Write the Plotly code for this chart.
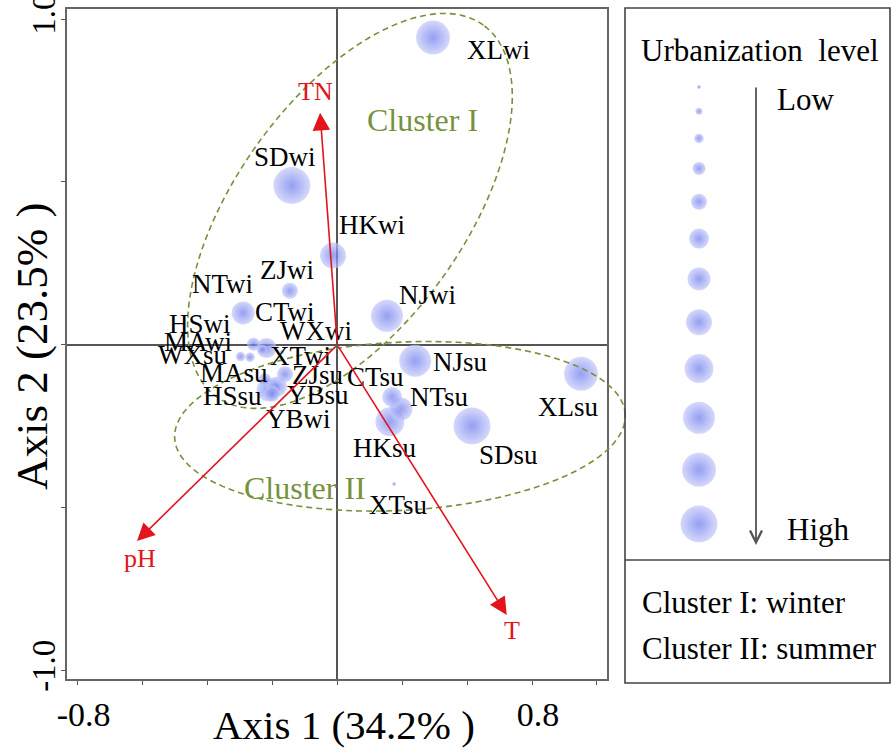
import numpy as np
import plotly.graph_objects as go

# ---------------- data ----------------
sites = ["XLwi", "SDwi", "HKwi", "ZJwi", "NTwi", "NJwi", "CTwi", "HSwi", "MAwi", "WXwi", "XTwi", "YBwi",
         "NJsu", "XLsu", "CTsu", "NTsu", "HKsu", "SDsu", "XTsu", "ZJsu", "MAsu", "HSsu", "YBsu", "WXsu"]
axis1 = [0.295, -0.140, -0.013, -0.146, -0.290, 0.153, -0.218, -0.258, -0.269, -0.231, -0.170, -0.201,
         0.240, 0.751, 0.169, 0.196, 0.162, 0.415, 0.175, -0.161, -0.223, -0.213, -0.186, -0.298]
axis2 = [0.943, 0.489, 0.274, 0.166, 0.098, 0.089, -0.010, 0.002, -0.038, -0.015, -0.022, -0.150,
         -0.049, -0.089, -0.160, -0.197, -0.236, -0.249, -0.427, -0.090, -0.107, -0.138, -0.128, -0.036]
urban_level = [11, 12, 8, 5, 7, 10, 6, 4, 3, 3, 1, 5,
               10, 11, 6, 7, 9, 12, 1, 5, 4, 7, 6, 3]

env_vars = ["TN", "pH", "T"]
env_axis1 = [-0.053, -0.617, 0.522]
env_axis2 = [0.712, -0.602, -0.829]

clusters = ["Cluster I", "Cluster II"]
cluster_cx = [0.039, 0.193]
cluster_cy = [0.411, -0.250]
cluster_a = [0.703, 0.695]
cluster_b = [0.351, 0.258]
cluster_angle = [54.2, 3.0]
cluster_label_x = [0.264, -0.100]
cluster_label_y = [0.691, -0.439]

levels = list(range(1, 13))
legend_notes = ["Cluster I: winter", "Cluster II: summer"]

x_tick_vals = [-0.8, -0.6, -0.4, -0.2, 0.0, 0.2, 0.4, 0.6, 0.8]
x_tick_text = ["-0.8", "", "", "", "", "", "", "0.8", ""]
y_tick_vals = [-1.0, -0.5, 0.0, 0.5, 1.0]
y_tick_text = ["-1.0", "", "", "", "1.0"]

# ---------------- layout constants ----------------
W, H = 892, 753
PL, PR, PT, PB = 67, 607, 9, 679
XR = [-0.8327, 0.8309]
YR = [-1.0255, 1.0307]
LEVEL_SIZE = [4, 7, 9.5, 13, 16, 20, 23, 26, 29, 32, 34, 37]
FONT = "Liberation Serif, Times New Roman, serif"
BUB_EDGE = "rgb(196,201,249)"
BUB_CENTER = "rgb(104,118,236)"
RED = "#E3141C"
GREEN = "#76923C"
GRAY = "#555555"

LABEL_OFFSETS = {
    "XLwi": (65, 12), "SDwi": (-7, -29), "HKwi": (39, -31), "ZJwi": (-3, -21),
    "NTwi": (-21, -29), "NJwi": (41, -21), "CTwi": (18, -36), "HSwi": (-54, -20),
    "MAwi": (-52, -15), "WXwi": (54, -19), "XTwi": (18, 4), "YBwi": (26, 25),
    "NJsu": (45, 1), "XLsu": (-13, 33), "CTsu": (-17, -20), "NTsu": (39, -12),
    "HKsu": (-5, 26), "SDsu": (36, 29), "XTsu": (4, 21), "ZJsu": (33, 1),
    "MAsu": (-31, -7), "HSsu": (-36, 6), "YBsu": (41, 8), "WXsu": (-48, -2),
}
ENV_OFFSETS = {"TN": (-5, -21), "pH": (3, 17), "T": (5, 16)}


def d2px(x, y):
    px = PL + (PR - PL) * (np.asarray(x) - XR[0]) / (XR[1] - XR[0])
    py = PB - (PB - PT) * (np.asarray(y) - YR[0]) / (YR[1] - YR[0])
    return px, py


def to_paper(px, py):
    return np.asarray(px) / W, 1 - np.asarray(py) / H


fig = go.Figure()

# main bubbles (bigger first so small ones sit on top)
order = sorted(range(len(sites)), key=lambda i: -urban_level[i])
fig.add_trace(go.Scatter(
    x=[axis1[i] for i in order], y=[axis2[i] for i in order],
    mode="markers",
    marker=dict(size=[LEVEL_SIZE[urban_level[i] - 1] for i in order],
                color=BUB_EDGE, line=dict(width=0),
                gradient=dict(type="radial", color=BUB_CENTER)),
    hoverinfo="skip", showlegend=False, cliponaxis=False,
    xaxis="x", yaxis="y"))

# legend bubbles in a full-figure pixel overlay axis
gap = (524 - 87 - sum((LEVEL_SIZE[i] + LEVEL_SIZE[i + 1]) / 2 for i in range(11))) / 11
leg_y = [87.0]
for i in range(11):
    leg_y.append(leg_y[-1] + (LEVEL_SIZE[i] + LEVEL_SIZE[i + 1]) / 2 + gap)
fig.add_trace(go.Scatter(
    x=[699] * len(levels), y=leg_y, mode="markers",
    marker=dict(size=[LEVEL_SIZE[l - 1] for l in levels], color=BUB_EDGE, line=dict(width=0),
                gradient=dict(type="radial", color=BUB_CENTER)),
    hoverinfo="skip", showlegend=False, xaxis="x2", yaxis="y2"))

annotations = []
# site labels
for s, x, y in zip(sites, axis1, axis2):
    dx, dy = LABEL_OFFSETS[s]
    annotations.append(dict(x=x, y=y, xref="x", yref="y", text=s, showarrow=False,
                            xshift=dx, yshift=-dy, font=dict(family=FONT, size=27, color="black")))

# environmental arrows
for name, x, y in zip(env_vars, env_axis1, env_axis2):
    annotations.append(dict(x=x, y=y, xref="x", yref="y", ax=0, ay=0, axref="x", ayref="y",
                            text="", showarrow=True, arrowhead=2, arrowsize=2.2, arrowwidth=1.6,
                            arrowcolor=RED))
    dx, dy = ENV_OFFSETS[name]
    annotations.append(dict(x=x, y=y, xref="x", yref="y", text=name, showarrow=False,
                            xshift=dx, yshift=-dy, font=dict(family=FONT, size=26, color=RED)))

# cluster ellipses
shapes = []
t = np.linspace(0, 2 * np.pi, 200)
for cx, cy, a, b, ang, lab, lx, ly in zip(cluster_cx, cluster_cy, cluster_a, cluster_b,
                                          cluster_angle, clusters, cluster_label_x, cluster_label_y):
    th = np.deg2rad(ang)
    ex = cx + a * np.cos(t) * np.cos(th) - b * np.sin(t) * np.sin(th)
    ey = cy + a * np.cos(t) * np.sin(th) + b * np.sin(t) * np.cos(th)
    px, py = to_paper(*d2px(ex, ey))
    path = "M " + " L ".join(f"{u:.5f},{v:.5f}" for u, v in zip(px, py)) + " Z"
    shapes.append(dict(type="path", path=path, xref="paper", yref="paper", layer="above",
                       line=dict(color=GREEN, width=1.6, dash="6px,4px")))
    annotations.append(dict(x=lx, y=ly, xref="x", yref="y", text=lab, showarrow=False,
                            font=dict(family=FONT, size=32, color=GREEN)))

# axis titles
annotations.append(dict(x=344, y=725, xref="x2", yref="y2", text="Axis 1 (34.2% )", showarrow=False,
                        font=dict(family=FONT, size=41, color="black")))
annotations.append(dict(x=32, y=347, xref="x2", yref="y2", text="Axis 2 (23.5% )", showarrow=False,
                        textangle=-90, font=dict(family=FONT, size=45, color="black")))

# legend panel
bx0, by0 = to_paper(625, 8)
bx1, by1 = to_paper(890, 683)
_, dvy = to_paper(0, 560)
shapes.append(dict(type="rect", xref="paper", yref="paper", x0=bx0, x1=bx1, y0=by1, y1=by0,
                   line=dict(color="#444444", width=1.6), fillcolor="rgba(0,0,0,0)"))
shapes.append(dict(type="line", xref="paper", yref="paper", x0=bx0, x1=bx1, y0=dvy, y1=dvy,
                   line=dict(color="#444444", width=1.6)))
annotations.append(dict(x=760, y=50, xref="x2", yref="y2", text="Urbanization  level", showarrow=False,
                        font=dict(family=FONT, size=31, color="black")))
annotations.append(dict(x=756, y=545, xref="x2", yref="y2", ax=756, ay=86, axref="x2", ayref="y2",
                        text="", showarrow=True, arrowhead=5, arrowsize=1.3, arrowwidth=1.8,
                        arrowcolor=GRAY))
annotations.append(dict(x=805, y=99, xref="x2", yref="y2", text="Low", showarrow=False,
                        font=dict(family=FONT, size=31, color="black")))
annotations.append(dict(x=818, y=529, xref="x2", yref="y2", text="High", showarrow=False,
                        font=dict(family=FONT, size=31, color="black")))
for k, note in enumerate(legend_notes):
    annotations.append(dict(x=640, y=602 + 46 * k, xref="x2", yref="y2", xanchor="left", text=note,
                            showarrow=False, font=dict(family=FONT, size=31, color="black")))

fig.update_layout(
    width=W, height=H, margin=dict(l=0, r=0, t=0, b=0, pad=0), autosize=False,
    paper_bgcolor="white", plot_bgcolor="rgba(0,0,0,0)",
    showlegend=False, shapes=shapes, annotations=annotations,
    xaxis=dict(domain=[PL / W, PR / W], range=XR, showgrid=False, zeroline=True, automargin=False,
               zerolinecolor=GRAY, zerolinewidth=1.5, showline=True, mirror=True,
               linecolor="#666666", linewidth=1.5, ticks="outside", ticklen=4, tickcolor=GRAY,
               tickvals=x_tick_vals, ticktext=x_tick_text, ticklabelshift=6,
               ticklabeloverflow="allow",
               tickfont=dict(family=FONT, size=34, color="black"), anchor="y"),
    yaxis=dict(domain=[1 - PB / H, 1 - PT / H], range=YR, showgrid=False, zeroline=True, automargin=False,
               zerolinecolor=GRAY, zerolinewidth=1.5, showline=True, mirror=True,
               linecolor="#666666", linewidth=1.5, ticks="outside", ticklen=4, tickcolor=GRAY,
               tickvals=y_tick_vals, ticktext=y_tick_text, tickangle=-90,
               ticklabeloverflow="allow", ticklabelstandoff=-7,
               tickfont=dict(family=FONT, size=33, color="black"), anchor="x"),
    xaxis2=dict(domain=[0, 1], range=[0, W], visible=False, anchor="y2", fixedrange=True,
                automargin=False),
    yaxis2=dict(domain=[0, 1], range=[H, 0], visible=False, anchor="x2", fixedrange=True,
                automargin=False),
)

fig.write_html("out.html")
